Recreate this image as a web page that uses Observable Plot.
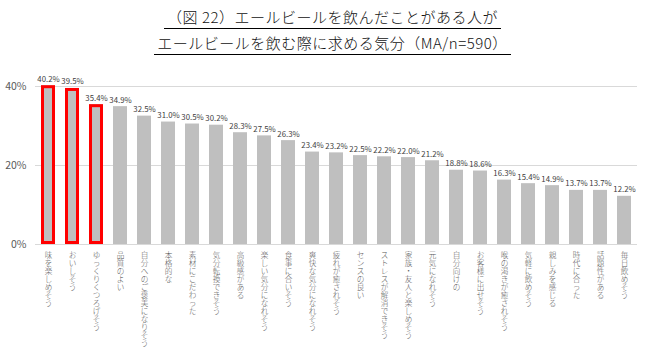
<!DOCTYPE html>
<html><head><meta charset="utf-8">
<script src="https://cdn.jsdelivr.net/npm/d3@7"></script>
<script src="https://cdn.jsdelivr.net/npm/@observablehq/plot@0.6"></script>
<style>
body{margin:0;background:#fff;font-family:"Noto Sans CJK JP",sans-serif;}
#title{position:relative;width:647px;height:60px;}
#title .ln{position:absolute;left:0;width:647px;text-align:center;font-size:15px;line-height:20px;color:#111;padding-left:18px;box-sizing:border-box;font-weight:300;}
#title .ln span{display:inline-block;border-bottom:1px solid #000;padding:0 3px 1px 3px;letter-spacing:0.5px;}
</style></head>
<body>
<div id="title">
  <div class="ln" style="top:7px"><span>（図 22）エールビールを飲んだことがある人が</span></div>
  <div class="ln" style="top:33px"><span>エールビールを飲む際に求める気分（MA/n=590）</span></div>
</div>
<div id="chart"></div>
<script>
const categories = ["味を楽しめそう","おいしそう","ゆっくりくつろげそう","品質のよい","自分へのご褒美になりそう","本格的な","素材にこだわった","気分転換できそう","高級感がある","楽しい気分になれそう","食事に合いそう","爽快な気分になれそう","疲れが癒されそう","センスの良い","ストレスが解消できそう","家族・友人と楽しめそう","元気になれそう","自分向けの","お客様に出せそう","喉の渇きが癒されそう","気軽に飲めそう","親しみを感じる","時代に合った","話題性がある","毎日飲めそう"];
const values = [40.2,39.5,35.4,34.9,32.5,31.0,30.5,30.2,28.3,27.5,26.3,23.4,23.2,22.5,22.2,22.0,21.2,18.8,18.6,16.3,15.4,14.9,13.7,13.7,12.2];
const highlighted = ["味を楽しめそう","おいしそう","ゆっくりくつろげそう"];
const yTicks = [0, 20, 40];

const data = categories.map((c, i) => ({cat: c, v: values[i] / 100}));
const hi = data.filter(d => highlighted.includes(d.cat));

const chart = Plot.plot({
  width: 647,
  height: 299,
  marginLeft: 35,
  marginRight: 10,
  marginTop: 26,
  marginBottom: 115,
  style: {fontFamily: '"Noto Sans CJK JP", sans-serif', background: "#fff"},
  x: {domain: categories, paddingInner: 0.43, paddingOuter: 0.225, axis: null},
  y: {domain: [0, 0.4], axis: null},
  marks: [
    Plot.ruleY(yTicks.map(t => t / 100), {stroke: "#d9d9d9", strokeWidth: 1}),
    Plot.axisY({ticks: yTicks.map(t => t / 100), tickFormat: d3.format(".0%"), tickSize: 0, tickPadding: 9, fontSize: 10.5, fill: "#595959", label: null}),
    Plot.barY(data, {x: "cat", y: "v", fill: "#bfbfbf"}),
    Plot.barY(hi, {x: "cat", y: "v", fill: "none", stroke: "#ff0000", strokeWidth: 3, inset: 1.5}),
    Plot.text(data, {x: "cat", y: "v", text: d => (d.v * 100).toFixed(1) + "%", lineAnchor: "bottom", dy: -4, fontSize: 7.8, fill: "#404040"}),
    Plot.text(categories, {x: d => d, text: d => Array.from(d).join("\n"), frameAnchor: "bottom", lineAnchor: "top", lineHeight: 1.05, dy: 8, fontSize: 7.6, fill: "#595959", fontWeight: 300})
  ]
});
document.getElementById("chart").appendChild(chart);
</script>
</body></html>
